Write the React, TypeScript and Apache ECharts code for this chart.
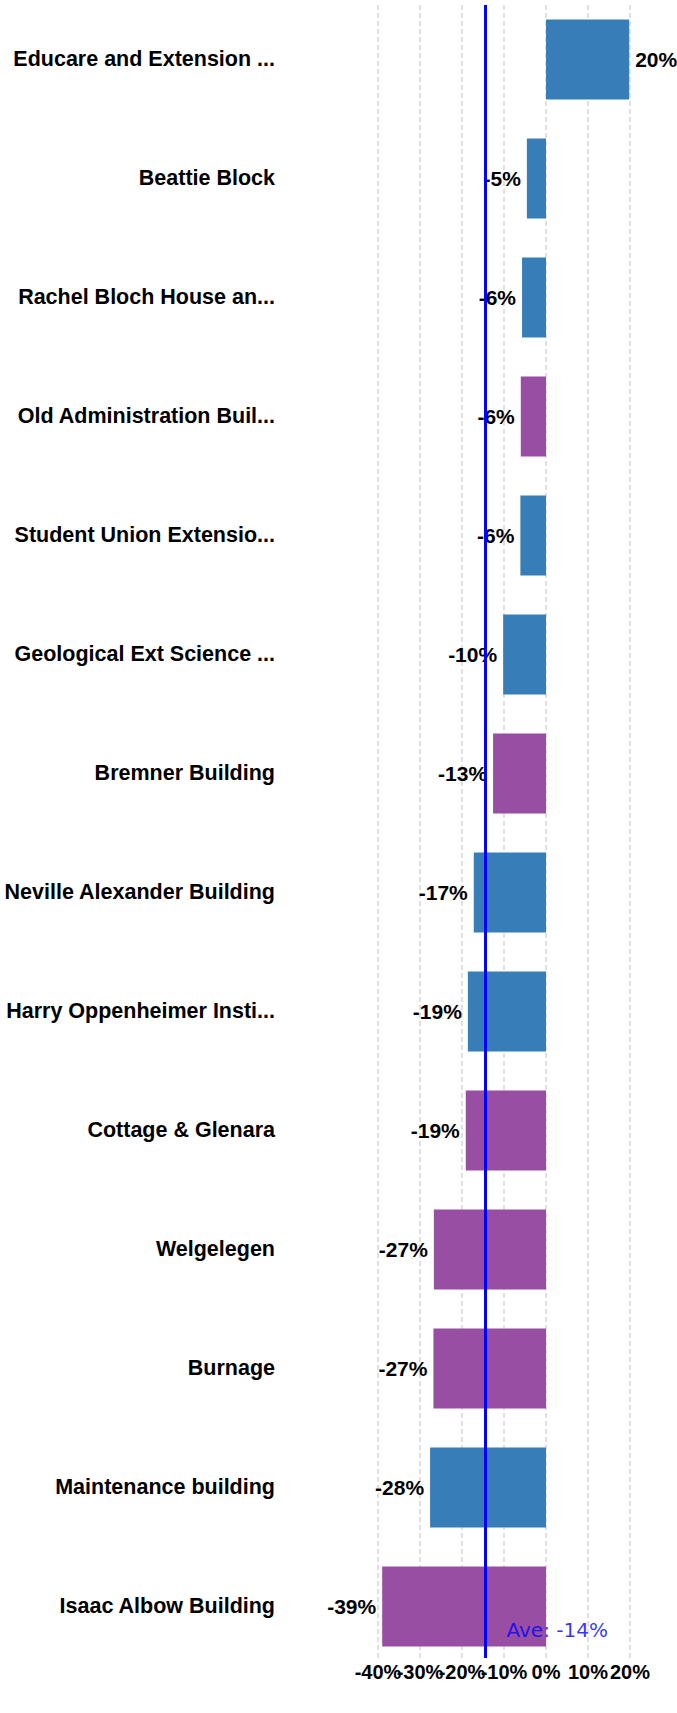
import React, { useEffect, useRef } from "react";
import * as echarts from "echarts";

const categories = [
  "Educare and Extension ...",
  "Beattie Block",
  "Rachel Bloch House an...",
  "Old Administration Buil...",
  "Student Union Extensio...",
  "Geological Ext Science ...",
  "Bremner Building",
  "Neville Alexander Building",
  "Harry Oppenheimer Insti...",
  "Cottage & Glenara",
  "Welgelegen",
  "Burnage",
  "Maintenance building",
  "Isaac Albow Building",
];
const values = [19.8, -4.55, -5.7, -6.0, -6.1, -10.2, -12.6, -17.2, -18.6, -19.1, -26.7, -26.8, -27.6, -39.0];
const groups = ["blue", "blue", "blue", "purple", "blue", "blue", "purple", "blue", "blue", "purple", "purple", "purple", "blue", "purple"];
const groupColors: Record<string, string> = { blue: "#377eb8", purple: "#984ea3" };
const tickLabels = ["-40%", "-30%", "-20%", "-10%", "0%", "10%", "20%"];
const average = -14.4;
const xMin = -40;
const xMax = 20;
const xInterval = 10;

const FONT = "'Liberation Sans', Arial, sans-serif";

export default function App() {
  const ref = useRef<HTMLDivElement>(null);
  useEffect(() => {
    if (!ref.current) return;
    const chart = echarts.init(ref.current, undefined, { renderer: "svg" });
    const barData = values.map((v, i) => ({
      value: v,
      itemStyle: { color: groupColors[groups[i]] },
      label: { position: v < 0 ? "left" : "right" },
    }));
    chart.setOption({
      animation: false,
      backgroundColor: "#ffffff",
      grid: [
        { left: 378, right: 47, top: -1.5, height: 1667.4, containLabel: false },
        { left: 378, right: 47, top: 5, height: 1653, containLabel: false },
      ],
      xAxis: [
        {
          gridIndex: 0,
          type: "value",
          min: xMin,
          max: xMax,
          interval: xInterval,
          show: false,
          splitLine: { show: false },
        },
        {
          gridIndex: 1,
          type: "value",
          min: xMin,
          max: xMax,
          interval: xInterval,
          show: false,
          splitLine: { show: false },
        },
        {
          gridIndex: 1,
          type: "category",
          data: tickLabels,
          boundaryGap: false,
          position: "bottom",
          axisLine: { show: false },
          axisTick: { show: false },
          axisLabel: {
            interval: 0,
            fontFamily: FONT,
            fontWeight: "bold",
            fontSize: 20,
            color: "#000",
            margin: 4,
          },
          splitLine: {
            show: true,
            interval: 0,
            lineStyle: { color: "#d6d6d6", width: 1.5, type: [5, 3] },
          },
        },
      ],
      yAxis: [
        {
          gridIndex: 0,
          type: "category",
          data: categories,
          inverse: true,
          axisLine: { show: false },
          axisTick: { show: false },
          splitLine: { show: false },
          axisLabel: {
            interval: 0,
            margin: 103,
            fontFamily: FONT,
            fontWeight: "bold",
            fontSize: 21.5,
            color: "#000",
          },
        },
        {
          gridIndex: 1,
          type: "value",
          min: 0,
          max: 1,
          show: false,
        },
      ],
      series: [
        {
          type: "bar",
          xAxisIndex: 0,
          yAxisIndex: 0,
          data: barData,
          barWidth: 80,
          z: 2,
          label: {
            show: true,
            distance: 6,
            formatter: (p: any) => `${Math.round(p.value)}%`,
            fontFamily: FONT,
            fontWeight: "bold",
            fontSize: 21,
            color: "#000",
          },
        },
        {
          type: "line",
          xAxisIndex: 1,
          yAxisIndex: 1,
          data: [
            [average, 0],
            [average, 1],
          ],
          symbol: "none",
          lineStyle: { color: "#0000ff", width: 3 },
          z: 3,
          silent: true,
        },
        {
          type: "scatter",
          xAxisIndex: 0,
          yAxisIndex: 0,
          data: [[average, categories[categories.length - 1]]],
          symbolSize: 0,
          z: 4,
          label: {
            show: true,
            position: "right",
            distance: 21,
            offset: [0, 24],
            formatter: () => `Ave: ${Math.round(average)}%`,
            fontFamily: "'DejaVu Sans', Verdana, sans-serif",
            fontSize: 20,
            color: "#0000ff",
          },
        },
      ],
    });
    return () => chart.dispose();
  }, []);
  return (
    <div
      ref={ref}
      style={{ position: "absolute", left: 0, top: 0, width: 677, height: 1713 }}
    />
  );
}
